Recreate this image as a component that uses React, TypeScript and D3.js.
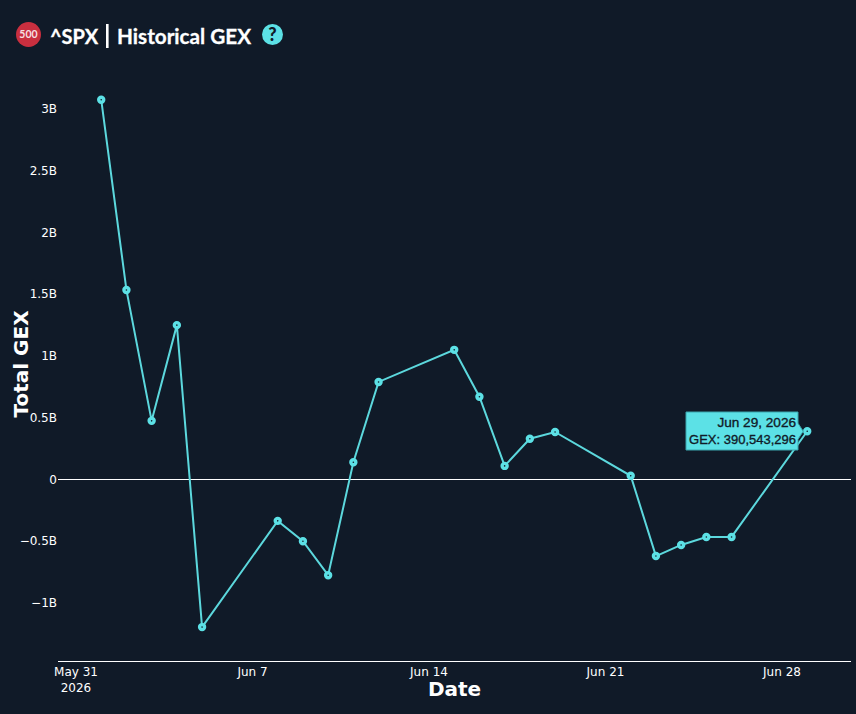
import * as d3 from "d3";

const dates = [
  "2026-06-01", "2026-06-02", "2026-06-03", "2026-06-04", "2026-06-05",
  "2026-06-08", "2026-06-09", "2026-06-10", "2026-06-11", "2026-06-12",
  "2026-06-15", "2026-06-16", "2026-06-17", "2026-06-18", "2026-06-19",
  "2026-06-22", "2026-06-23", "2026-06-24", "2026-06-25", "2026-06-26",
  "2026-06-29",
];
const gexValues = [
  3.075e9, 1.535e9, 0.475e9, 1.25e9, -1.195e9,
  -0.335e9, -0.5e9, -0.775e9, 0.14e9, 0.79e9,
  1.05e9, 0.67e9, 0.11e9, 0.33e9, 0.385e9,
  0.03e9, -0.62e9, -0.53e9, -0.465e9, -0.465e9,
  390543296,
];
const yTicks = [-1e9, -0.5e9, 0, 0.5e9, 1e9, 1.5e9, 2e9, 2.5e9, 3e9];
const yTickLabels = ["−1B", "−0.5B", "0", "0.5B", "1B", "1.5B", "2B", "2.5B", "3B"];
const xTicks = ["2026-05-31", "2026-06-07", "2026-06-14", "2026-06-21", "2026-06-28"];
const xTickLabels = ["May 31", "Jun 7", "Jun 14", "Jun 21", "Jun 28"];

const BG = "#101a28";
const TEAL = "#5ce1e6";
const TICK_FONT = "'DejaVu Sans', sans-serif";
const TITLE_FONT = "Lato, sans-serif";
const LABEL_FONT = "'Liberation Sans', Arial, sans-serif";

const parse = (s: string) => new Date(s + "T00:00:00Z");

export default function App() {
  const width = 856;
  const height = 714;
  const left = 58;
  const right = 851;
  const axisY = 661.5;

  const x = d3
    .scaleUtc()
    .domain([parse("2026-05-31"), parse("2026-06-28")])
    .range([76, 782]);
  const y = d3.scaleLinear().domain([0, 3e9]).range([479.5, 109]);

  const points = dates.map((d, i) => ({ date: parse(d), value: gexValues[i] }));
  const line = d3
    .line<{ date: Date; value: number }>()
    .x((d) => x(d.date))
    .y((d) => y(d.value));
  const last = points[points.length - 1];

  return (
    <svg
      width={width}
      height={height}
      viewBox={`0 0 ${width} ${height}`}
      style={{ position: "absolute", left: 0, top: 0, background: BG }}
    >
      {/* Header */}
      <circle cx={28.5} cy={34.5} r={12.5} fill="#c92f3f" />
      <text x={28.5} y={38} textAnchor="middle" fontFamily={TITLE_FONT} fontWeight={700} fontSize={10.5} fill="#f5dfe0">
        500
      </text>
      <text x={50} y={44} fontFamily={TITLE_FONT} fontWeight={700} fontSize={20} stroke="#fff" strokeWidth={0.3} fill="#fff">
        ^SPX
      </text>
      <rect x={106} y={24} width={2.6} height={24} fill="#fff" />
      <text x={117} y={44} fontFamily={TITLE_FONT} fontWeight={700} fontSize={20.7} stroke="#fff" strokeWidth={0.3} fill="#fff">
        Historical GEX
      </text>
      <circle cx={272.5} cy={34.5} r={10.5} fill={TEAL} />
      <text x={272.5} y={41} textAnchor="middle" fontFamily={TITLE_FONT} fontWeight={900} fontSize={18} fill={BG}>
        ?
      </text>

      {/* Y axis */}
      {yTicks.map((t, i) => (
        <text key={t} x={57} y={y(t) + 4.2} textAnchor="end" fontFamily={TICK_FONT} fontSize={12} fill="#fff">
          {yTickLabels[i]}
        </text>
      ))}
      <line x1={left} x2={right} y1={y(0)} y2={y(0)} stroke="#fff" strokeWidth={1.2} />

      {/* X axis */}
      <line x1={left} x2={right} y1={axisY} y2={axisY} stroke="#fff" strokeWidth={1.2} />
      {xTicks.map((t, i) => (
        <text key={t} x={x(parse(t))} y={676} textAnchor="middle" fontFamily={TICK_FONT} fontSize={12} fill="#fff">
          {xTickLabels[i]}
        </text>
      ))}
      <text x={x(parse(xTicks[0]))} y={692} textAnchor="middle" fontFamily={TICK_FONT} fontSize={12} fill="#fff">
        2026
      </text>

      {/* Axis titles */}
      <text x={454.5} y={696} textAnchor="middle" fontFamily={TICK_FONT} fontWeight={700} fontSize={20} fill="#fff">
        Date
      </text>
      <text
        transform="translate(28,364) rotate(-90)"
        textAnchor="middle"
        fontFamily={TICK_FONT}
        fontWeight={700}
        fontSize={20}
        fill="#fff"
      >
        Total GEX
      </text>

      {/* Line */}
      <path d={line(points) ?? ""} fill="none" stroke="#5cd8dd" strokeWidth={2} />

      {/* Markers */}
      {points.map((p) => (
        <circle
          key={p.date.getTime()}
          cx={x(p.date)}
          cy={y(p.value)}
          r={2.5}
          fill={BG}
          stroke={TEAL}
          strokeWidth={3.4}
        />
      ))}

      {/* Hover label */}
      <path
        d={`M686 412 H798 V${y(last.value) - 8} L${x(last.date) - 4} ${y(last.value)} L798 ${y(last.value) + 8} V450 H686 Z`}
        fill={TEAL}
        stroke="#3aa6ad"
        strokeWidth={1}
      />
      <text x={796} y={427} textAnchor="end" fontFamily={LABEL_FONT} fontSize={13.6} fill={BG} stroke={BG} strokeWidth={0.35}>
        Jun 29, 2026
      </text>
      <text x={796} y={444} textAnchor="end" fontFamily={LABEL_FONT} fontSize={13} fill={BG} stroke={BG} strokeWidth={0.35}>
        GEX: 390,543,296
      </text>
    </svg>
  );
}
